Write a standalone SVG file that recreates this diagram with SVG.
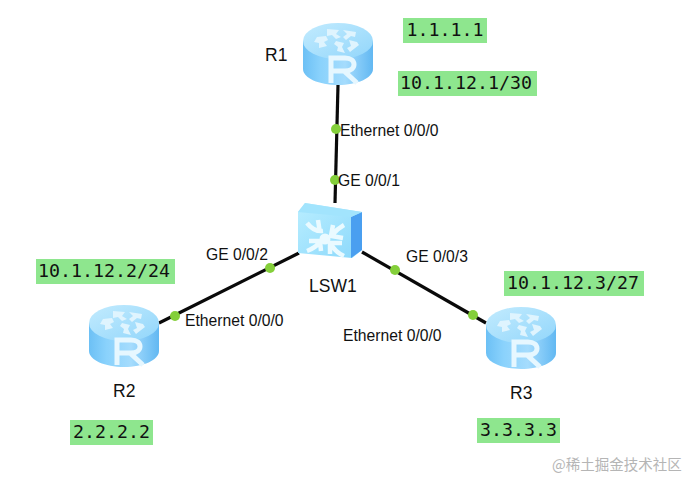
<svg xmlns="http://www.w3.org/2000/svg" xmlns:xlink="http://www.w3.org/1999/xlink" width="698" height="488" viewBox="0 0 698 488">
<style>
.lbl{font-family:"Liberation Sans",Arial,sans-serif;font-size:15.7px;fill:#111}
.name{font-family:"Liberation Sans",Arial,sans-serif;font-size:17.500px;fill:#111}
.ip{font-family:"DejaVu Sans Mono","Liberation Mono",monospace;font-size:18.300px;fill:#111;text-anchor:middle}
.hl{fill:#8ee68e}
.link{stroke:#0a0a0a;stroke-width:3.200;fill:none;stroke-linecap:butt}
.dot{fill:#84cf3a}
.wm{font-family:"Noto Sans CJK SC","Noto Sans",sans-serif;font-size:14.500px;fill:#b5b5b5}
</style>
<defs>
<linearGradient id="cyl" x1="0" x2="1" y1="0" y2="0">
<stop offset="0" stop-color="#6cc0f5"/><stop offset=".25" stop-color="#8ad2fc"/><stop offset=".6" stop-color="#a5dcfd"/><stop offset="1" stop-color="#62b8f2"/>
</linearGradient>
<linearGradient id="topg" x1="0" x2="1" y1="0" y2="1">
<stop offset="0" stop-color="#c2ebfe"/><stop offset="1" stop-color="#92d6fb"/>
</linearGradient>
<linearGradient id="sw" x1="0" x2="1" y1="0" y2="1">
<stop offset="0" stop-color="#b9eeff"/><stop offset="1" stop-color="#8bd8fb"/>
</linearGradient>
<g id="router">
<path d="M0 18V46C0 55 16 62 35 62S70 55 70 46V18Z" fill="url(#cyl)"/>
<ellipse cx="35" cy="18" rx="35" ry="18" fill="url(#topg)"/>
<path d="M24 6l12 1-3 4 5 3-5 2-4-4-5 1zM40 7l13 2-1 5-4-1-5 4-3-3 4-3zM14 14l9-1 2 4-4 2 3 4-8 2 0-5-5-1zM33 18l8 2-2 4 3 6-8-2 1-4-4-3zM46 17l8 2 2 3-9 7-3-4 4-2z" fill="#dff4fe"/>
<path d="M28 60V35H42C54 35 54 48 42 48H28M41 48L54 60" fill="none" stroke="#e6f7ff" stroke-width="5"/>
</g>
</defs>
<rect width="698" height="488" fill="#fff"/>
<g id="connectors">
<path class="link" d="M338 85L335 203"/>
<path class="link" d="M299 253L159 323"/>
<path class="link" d="M362 252L486 323"/>
</g>
<g id="R1"><use xlink:href="#router" href="#router" x="303" y="23"/><text class="name" x="265" y="61">R1</text></g>
<g id="R2"><use xlink:href="#router" href="#router" x="89" y="305"/><text class="name" x="113" y="397">R2</text></g>
<g id="R3"><use xlink:href="#router" href="#router" x="486" y="307"/><text class="name" x="510" y="399">R3</text></g>
<g id="LSW1">
<path d="M298 212L305 203L362 212V250L352 258L298 253Z" fill="url(#sw)"/>
<path d="M351 217L362 212V250L351 258Z" fill="#4a9ff0"/>
<path d="M298 212L305 203L362 212L351 217Z" fill="#a2e4fd"/>
<circle cx="325" cy="239" r="5.500" fill="#eafaff"/>
<g fill="none" stroke="#eafaff" stroke-width="4.500">
<path d="M307 223Q314 232 323 231M318 220L320 233"/>
<path d="M344 225Q337 229 332 235M333 225L331 236L343 238"/>
<path d="M307 251Q315 248 319 243M309 241L320 241L321 251"/>
<path d="M344 256Q335 252 331 244M330 254L330 243L342 243"/>
</g>
<text class="name" x="309" y="292">LSW1</text>
</g>
<g id="ports">
<circle class="dot" cx="336" cy="129" r="5"/>
<circle class="dot" cx="335" cy="180" r="5"/>
<circle class="dot" cx="270" cy="268" r="5"/>
<circle class="dot" cx="175" cy="316" r="5"/>
<circle class="dot" cx="395" cy="270" r="5"/>
<circle class="dot" cx="473" cy="315" r="5"/>
<text class="lbl" x="340" y="136">Ethernet 0/0/0</text>
<text class="lbl" x="338" y="186">GE 0/0/1</text>
<text class="lbl" x="206" y="260">GE 0/0/2</text>
<text class="lbl" x="185" y="326">Ethernet 0/0/0</text>
<text class="lbl" x="406" y="262">GE 0/0/3</text>
<text class="lbl" x="343" y="341">Ethernet 0/0/0</text>
</g>
<g id="addresses">
<rect class="hl" x="403" y="18" width="84" height="25"/><text class="ip" x="445" y="36">1.1.1.1</text>
<rect class="hl" x="398" y="71" width="139" height="25"/><text class="ip" x="466" y="89">10.1.12.1/30</text>
<rect class="hl" x="36" y="259" width="139" height="25"/><text class="ip" x="104" y="277">10.1.12.2/24</text>
<rect class="hl" x="70" y="420" width="83" height="25"/><text class="ip" x="111.500" y="438">2.2.2.2</text>
<rect class="hl" x="504" y="271" width="140" height="25"/><text class="ip" x="573" y="289">10.1.12.3/27</text>
<rect class="hl" x="477" y="418" width="83" height="25"/><text class="ip" x="518.500" y="436">3.3.3.3</text>
</g>
<text class="wm" x="552" y="470">@稀土掘金技术社区</text>
</svg>
